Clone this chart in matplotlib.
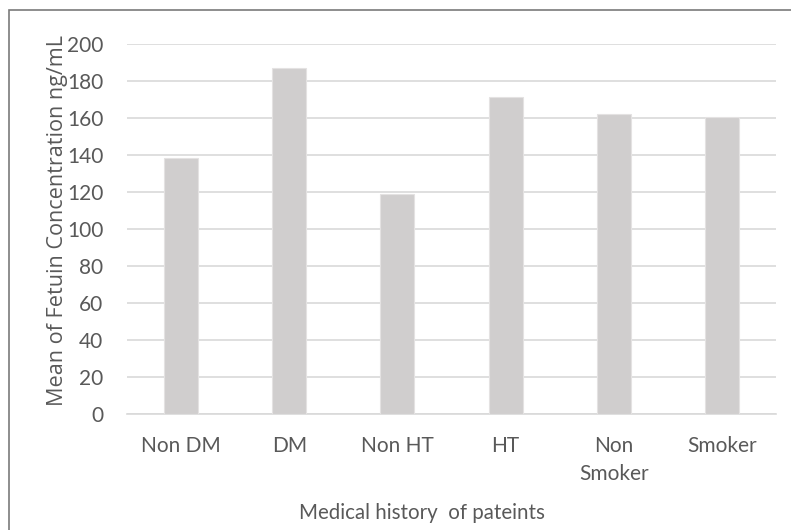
import matplotlib
matplotlib.use("Agg")
import matplotlib.pyplot as plt
from matplotlib.patches import Rectangle

categories = ["Non DM", "DM", "Non HT", "HT", "Non\nSmoker", "Smoker"]
fetuin_mean = [138.5, 187.2, 118.8, 171.6, 162.0, 160.8]
y_ticks = [0, 20, 40, 60, 80, 100, 120, 140, 160, 180, 200]

TEXT = "#595959"
BAR = "#d0cece"
GRID = "#d9d9d9"
TICK_FONT = ["Lato", "DejaVu Sans"]

fig = plt.figure(figsize=(7.91, 5.30), dpi=100)
fig.patch.set_facecolor("white")

# outer chart frame (extends past right and bottom edges)
frame = Rectangle((9 / 791, -0.1), 1.2, 1 - 10 / 530 + 0.1,
                  transform=fig.transFigure, fill=False,
                  edgecolor="#7a7a7a", linewidth=1.2)
fig.add_artist(frame)

ax = fig.add_axes([127 / 791, 1 - 414 / 530, (776 - 127) / 791, (414 - 44) / 530])
x = range(len(categories))
ax.bar(x, fetuin_mean, width=0.315, color=BAR, edgecolor="#e4e2e2",
       linewidth=0.8, zorder=3)

ax.set_ylim(0, 200)
ax.set_xlim(-0.5, len(categories) - 0.5)
ax.set_yticks(y_ticks)
ax.set_xticks(list(x))
ax.set_xticklabels(categories, linespacing=1.5)
ax.yaxis.grid(True, color=GRID, linewidth=1.2, zorder=0)
ax.set_axisbelow(True)
for s in ["top", "right", "left"]:
    ax.spines[s].set_visible(False)
ax.spines["bottom"].set_color(GRID)
ax.spines["bottom"].set_linewidth(1.2)
ax.tick_params(axis="both", length=0, colors=TEXT, labelsize=15)
ax.tick_params(axis="x", pad=16)
ax.tick_params(axis="y", pad=17)
for lab in ax.get_xticklabels() + ax.get_yticklabels():
    lab.set_family(TICK_FONT)
    lab.set_color(TEXT)

fig.text(58 / 791, 1 - 220 / 530, "Mean of Fetuin Concentration ng/mL",
         rotation=90, ha="center", va="center", color=TEXT,
         fontsize=15.6, family=["Open Sans", "DejaVu Sans"])
fig.text(422 / 791, 1 - 513 / 530, "Medical history  of pateints",
         ha="center", va="center", color=TEXT, fontsize=14.8,
         family=TICK_FONT)

fig.savefig("out.png", dpi=100, facecolor="white")
